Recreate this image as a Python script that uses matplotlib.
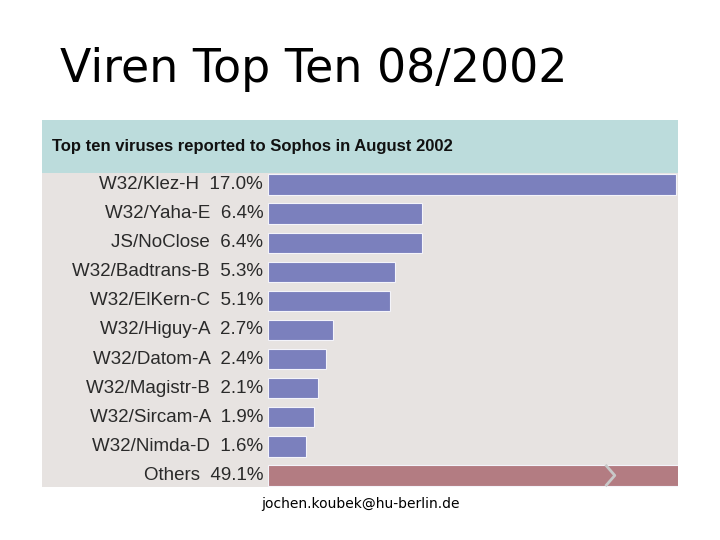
import matplotlib
matplotlib.use("Agg")
import matplotlib.pyplot as plt
from matplotlib.patches import Rectangle

names = ["W32/Klez-H", "W32/Yaha-E", "JS/NoClose", "W32/Badtrans-B", "W32/ElKern-C",
         "W32/Higuy-A", "W32/Datom-A", "W32/Magistr-B", "W32/Sircam-A", "W32/Nimda-D", "Others"]
values = [17.0, 6.4, 6.4, 5.3, 5.1, 2.7, 2.4, 2.1, 1.9, 1.6, 49.1]

W, H = 720, 540
fig = plt.figure(figsize=(7.2, 5.4), dpi=100)
fig.patch.set_facecolor("white")

def fr(x0, y0, x1, y1):
    return [x0 / W, 1 - y1 / H, (x1 - x0) / W, (y1 - y0) / H]

# background panel
bg = fig.add_axes(fr(42, 120, 678, 487))
bg.set_xlim(0, 1); bg.set_ylim(0, 1); bg.axis("off")
bg.add_patch(Rectangle((0, 0), 1, 1, facecolor="#e7e3e1", edgecolor="none"))
hh = (173 - 120) / (487 - 120)
bg.add_patch(Rectangle((0, 1 - hh), 1, hh, facecolor="#bcdcdc", edgecolor="none"))
bg.text(10 / 636, 1 - hh / 2, "Top ten viruses reported to Sophos in August 2002",
        fontsize=12, fontweight="bold", va="center", ha="left", color="#111111",
        family="Liberation Sans")

ax = fig.add_axes(fr(268, 170, 678, 490))
ax.set_xlim(0, 410 / 24)
ax.set_ylim(len(names) - 0.5, -0.5)
ax.axis("off")
colors = ["#7b80bd"] * 10 + ["#b37c82"]
ys = list(range(len(names)))
ax.barh(ys, values, height=0.70, color=colors, edgecolor="#f4f4fa", linewidth=0.8, clip_on=True)
for y, n, v in zip(ys, names, values):
    ax.text(-0.2, y, f"{n}  {v:.1f}%", ha="right", va="center", fontsize=13.5,
            color="#2a2a2a", family="Liberation Sans", clip_on=False)
# chevron on the clipped bar
cx = (610 - 268) / 24
ax.plot([cx - 0.15, cx + 0.2, cx - 0.15], [10 - 0.33, 10, 10 + 0.33], color="#c8c8c8", lw=2)

fig.text(60 / W, 1 - 70 / H, "Viren Top Ten 08/2002", fontsize=33, va="center", ha="left",
         family="DejaVu Sans", color="black")
fig.text(360 / W, 1 - 504 / H, "jochen.koubek@hu-berlin.de", fontsize=10, va="center",
         ha="center", family="DejaVu Sans", color="black")

fig.savefig("out.png", dpi=100)
